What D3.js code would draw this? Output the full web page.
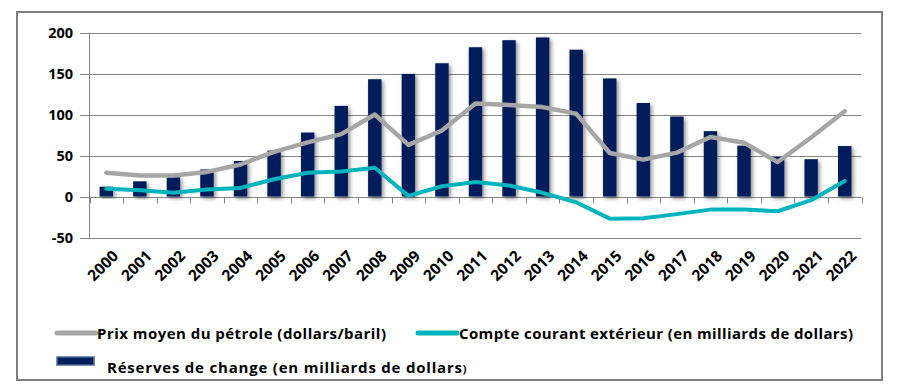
<!DOCTYPE html>
<html>
<head>
<meta charset="utf-8">
<script src="https://cdn.jsdelivr.net/npm/d3@7"></script>
<style>
  body { margin: 0; background: #fff; }
  svg text { font-family: "Open Sans", "DejaVu Sans", sans-serif; font-weight: bold; fill: #000; }
</style>
</head>
<body>
<svg id="chart" width="912" height="390"></svg>
<script>
// data
let years = ["2000","2001","2002","2003","2004","2005","2006","2007","2008","2009","2010","2011",
             "2012","2013","2014","2015","2016","2017","2018","2019","2020","2021","2022"];
let reserves = [12, 18.5, 23.5, 33, 43.3, 56, 78, 110.5, 143, 149.5, 162.5, 182, 190.6, 194, 179, 144, 114, 97.5, 79.7, 62, 48.3, 45.5, 61.5];
let oilPrice = [29, 25.5, 25.5, 30, 39, 54.5, 66, 76, 100, 63, 80.5, 113.5, 111.5, 109, 101, 53, 45, 53.5, 72.5, 65.5, 42, 72, 104];
let currentAccount = [9.5, 7.5, 4.5, 8.5, 10.5, 21, 29, 30.5, 35, 0.8, 12.5, 17.8, 13.5, 4.5, -7, -27, -26.5, -21.5, -16, -16, -18, -4.5, 19];
let yTicks = [-50, 0, 50, 100, 150, 200];

let svg = d3.select("#chart");

// shadow for the bars
let defs = svg.append("defs");
let f = defs.append("filter").attr("id", "shadow").attr("x", "-50%").attr("y", "-10%").attr("width", "200%").attr("height", "130%");
f.append("feGaussianBlur").attr("in", "SourceAlpha").attr("stdDeviation", 2);
f.append("feOffset").attr("dx", 2).attr("dy", 2).attr("result", "b");
f.append("feComponentTransfer").append("feFuncA").attr("type", "linear").attr("slope", 0.45);
let m = f.append("feMerge");
m.append("feMergeNode");
m.append("feMergeNode").attr("in", "SourceGraphic");

// frame
svg.append("rect")
  .attr("x", 17).attr("y", 12).attr("width", 865).attr("height", 368)
  .attr("fill", "none").attr("stroke", "#808080").attr("stroke-width", 2);

let x = d3.scaleBand().domain(years).range([89.5, 861.5]).padding(0);
let y = d3.scaleLinear().domain([-50, 200]).range([237.5, 32.5]);

// gridlines
svg.append("g").selectAll("line").data(yTicks).join("line")
  .attr("x1", 80).attr("x2", 861.5)
  .attr("y1", d => Math.round(y(d)) + 0.5).attr("y2", d => Math.round(y(d)) + 0.5)
  .attr("stroke", "#868686").attr("stroke-width", 1);

// y axis line
svg.append("line")
  .attr("x1", 89.5).attr("x2", 89.5).attr("y1", y(200)).attr("y2", y(-50))
  .attr("stroke", "#868686");

svg.append("g").selectAll("text").data(yTicks).join("text")
  .attr("x", 73).attr("y", d => y(d))
  .attr("dy", "0.36em").attr("text-anchor", "end")
  .attr("font-size", 14.5)
  .text(d => d);

// bars
svg.append("g").selectAll("rect").data(reserves).join("rect")
  .attr("x", (d, i) => x(years[i]) + x.bandwidth() * 0.3)
  .attr("width", x.bandwidth() * 0.4)
  .attr("y", d => y(d))
  .attr("height", d => y(0) - y(d))
  .attr("fill", "#001e5a")
  .attr("filter", "url(#shadow)");

// x axis ticks on the zero line
let zeroY = Math.round(y(0)) + 0.5;
svg.append("g").selectAll("line").data(years.concat(["end"])).join("line")
  .attr("x1", (d, i) => Math.round(89.5 + i * x.step()) + 0.5)
  .attr("x2", (d, i) => Math.round(89.5 + i * x.step()) + 0.5)
  .attr("y1", zeroY).attr("y2", zeroY + 6)
  .attr("stroke", "#868686");

// lines
let line = d3.line()
  .x((d, i) => x(years[i]) + x.bandwidth() / 2)
  .y(d => y(d));

svg.append("path").datum(oilPrice)
  .attr("d", line).attr("fill", "none")
  .attr("stroke", "#a6a6a6").attr("stroke-width", 4.5)
  .attr("stroke-linejoin", "round").attr("stroke-linecap", "round");

svg.append("path").datum(currentAccount)
  .attr("d", line).attr("fill", "none")
  .attr("stroke", "#00b4be").attr("stroke-width", 4)
  .attr("stroke-linejoin", "round").attr("stroke-linecap", "round");

// x labels, rotated
svg.append("g").selectAll("text").data(years).join("text")
  .attr("transform", d => "translate(" + (x(d) + x.bandwidth() / 2 + 5) + ",249) rotate(-45)")
  .attr("text-anchor", "end")
  .attr("dy", "0.72em")
  .attr("font-size", 15.5)
  .text(d => d);

// legend
let legend = svg.append("g");
legend.append("line").attr("x1", 57).attr("x2", 96).attr("y1", 333).attr("y2", 333)
  .attr("stroke", "#a6a6a6").attr("stroke-width", 5).attr("stroke-linecap", "round");
legend.append("text").attr("x", 97).attr("y", 338.5).attr("font-size", 15)
  .attr("textLength", 289).text("Prix moyen du pétrole (dollars/baril)");

legend.append("line").attr("x1", 418).attr("x2", 457).attr("y1", 333).attr("y2", 333)
  .attr("stroke", "#00b4be").attr("stroke-width", 5).attr("stroke-linecap", "round");
legend.append("text").attr("x", 459).attr("y", 338.5).attr("font-size", 15)
  .attr("textLength", 394).text("Compte courant extérieur (en milliards de dollars)");

legend.append("rect").attr("x", 57).attr("y", 357).attr("width", 37).attr("height", 8)
  .attr("fill", "#001e5a").attr("stroke", "#4a6a9a").attr("stroke-width", 1.5);
let t = legend.append("text").attr("x", 107).attr("y", 373).attr("font-size", 15);
t.append("tspan").attr("textLength", 355).text("Réserves de change (en milliards de dollars");
t.append("tspan").attr("font-size", 11).text(")");
</script>
</body>
</html>
